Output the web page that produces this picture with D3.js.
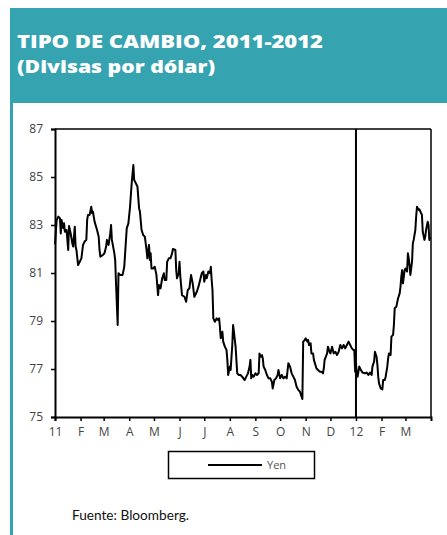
<!DOCTYPE html>
<html><head><meta charset="utf-8">
<script src="https://cdn.jsdelivr.net/npm/d3@7"></script>
<style>html,body{margin:0;padding:0;background:#fff;}svg{display:block;}</style>
</head><body>
<svg id="chart" width="447" height="535"></svg>
<script>
const startDate = "2011-01-01";
const endDate = "2012-04-01";
const dividerDate = "2012-01-01";
const seriesName = "Yen";
const yTicks = [75, 77, 79, 81, 83, 85, 87];
const monthLabels = ["11","F","M","A","M","J","J","A","S","O","N","D","12","F","M"];
// days since 2011-01-01
const dayOffsets = [0,2,4,6,7,8,10,11,12,14,16,17,19,21,22,24,25,26,28,30,32,34,36,38,39,40,42,44,45,46,48,51,53,54,55,58,60,62,63,65,67,68,69,72,73,74,76,77,79,82,84,
87,89,91,93,95,96,98,100,102,103,105,107,109,111,112,114,115,116,117,119,121,123,125,126,128,130,132,133,135,136,138,140,142,143,146,147,148,150,151,152,154,157,159,161,163,165,167,169,
172,174,176,178,180,181,183,184,186,188,189,190,191,192,194,196,198,199,200,201,203,204,206,208,209,210,212,213,215,216,217,219,220,221,223,225,227,230,232,234,236,237,238,239,241,243,245,247,248,249,251,252,253,255,257,259,261,263,264,266,
268,270,271,273,275,277,279,281,283,285,287,289,291,293,295,297,299,300,301,303,304,306,307,308,310,311,313,314,317,319,321,323,325,326,327,330,331,333,334,336,338,340,342,344,346,348,350,352,354,356,358,360,362,363,364,365,366,367,369,371,373,376,378,380,382,384,385,387,388,390,391,392,393,395,397,398,400,401,403,404,405,407,408,410,411,412,414,416,418,419,420,421,422,424,425,427,428,429,430,431,433,434,435,437,438,439,441,442,444,445,446,448,449,450,452,453,454,455];
const yenValues = [82.2,83.2,83.35,83.28,82.65,83.21,82.86,83.07,82.72,82.79,81.96,82.96,82.65,82.24,82.10,82.93,82.10,81.96,81.33,81.47,81.61,82.17,82.31,82.38,83.21,83.42,83.42,83.76,83.49,83.56,83.14,82.79,82.51,81.96,81.68,81.75,81.82,82.10,82.38,82.17,82.65,83.0,82.38,81.82,81.54,80.57,78.83,80.99,80.92,80.92,81.26,
82.86,83.07,83.76,84.74,85.5,84.88,84.74,84.6,83.69,83.56,82.79,82.58,82.51,81.96,81.61,82.17,81.54,81.82,81.19,81.19,81.26,80.92,80.08,80.5,80.36,80.78,80.99,80.71,80.71,81.47,81.61,81.61,81.82,82.0,81.96,81.12,80.78,80.99,81.47,80.85,80.08,80.01,79.80,80.29,80.36,80.92,80.57,80.01,
80.22,80.43,80.71,80.99,81.06,80.64,80.92,80.78,81.06,80.99,81.26,80.71,80.29,79.11,78.97,79.11,79.04,79.11,78.76,78.28,78.55,78.14,77.93,77.79,77.38,76.75,77.10,76.96,78.0,78.83,78.55,77.93,77.38,76.82,76.75,76.75,76.68,76.54,76.68,76.82,77.10,77.38,76.61,76.75,76.68,76.82,76.75,76.82,77.65,77.51,77.58,77.44,77.10,76.96,76.75,76.61,76.61,76.47,76.19,76.54,
76.61,76.75,76.96,76.61,76.75,76.61,76.68,76.61,77.24,77.10,76.82,76.68,76.54,76.26,76.13,76.06,75.85,75.75,78.14,78.21,78.28,78.14,78.21,78.0,78.07,77.65,77.65,77.38,77.03,76.96,76.89,76.89,76.82,77.03,77.38,77.65,77.93,77.72,77.65,77.93,77.65,77.72,77.58,77.72,78.0,77.86,78.0,77.86,78.0,78.14,78.0,77.86,77.79,77.79,76.89,77.24,76.82,76.68,77.10,76.96,76.85,76.82,76.85,76.75,76.85,76.75,77.10,77.31,77.72,77.51,77.17,76.68,76.40,76.19,76.15,76.54,76.54,76.68,77.10,77.44,77.65,77.58,78.35,78.42,78.83,79.53,79.60,79.94,80.15,80.43,80.85,81.12,80.57,81.12,81.19,81.06,81.82,81.61,81.33,80.92,81.47,82.24,82.38,82.79,83.35,83.76,83.63,83.65,83.49,83.42,82.72,82.38,82.51,82.79,83.14,83.0,82.38,82.51];

const svg = d3.select("#chart");
const teal = "#36a3b1";
const parse = d3.timeParse("%Y-%m-%d");
const t0 = parse(startDate), t1 = parse(endDate);
const data = dayOffsets.map((d, i) => ({date: d3.timeDay.offset(t0, d), value: yenValues[i]}));

// header
svg.append("rect").attr("x", 10).attr("y", 8).attr("width", 437).attr("height", 95).attr("fill", teal);
svg.append("rect").attr("x", 10).attr("y", 103).attr("width", 3).attr("height", 432).attr("fill", teal);
const titleFont = "'Open Sans', Lato, sans-serif";
svg.append("text").attr("x", 17).attr("y", 48).attr("fill", "#fff")
  .attr("font-family", titleFont).attr("font-weight", 800).attr("font-size", 18)
  .attr("textLength", 306).attr("lengthAdjust", "spacingAndGlyphs")
  .text("TIPO DE CAMBIO, 2011-2012");
svg.append("text").attr("x", 17).attr("y", 73).attr("fill", "#fff")
  .attr("font-family", titleFont).attr("font-weight", 800).attr("font-size", 18)
  .attr("textLength", 198).attr("lengthAdjust", "spacingAndGlyphs")
  .text("(Divisas por dólar)");

const L = 55, R = 431, T = 129, B = 417;
const x = d3.scaleTime().domain([t0, t1]).range([L, R]);
const y = d3.scaleLinear().domain([75, 87]).range([B, T]);

const font = "'Open Sans', sans-serif";
// y axis
const yAxis = svg.append("g").attr("transform", `translate(${L},0)`)
  .call(d3.axisLeft(y).tickValues(yTicks).tickSize(4).tickPadding(8));
yAxis.select(".domain").attr("stroke-width", 2);
yAxis.selectAll(".tick line").attr("stroke-width", 1.5);
yAxis.selectAll("text").attr("font-family", font).attr("font-size", 12).attr("fill", "#444");

// x axis
const monthStarts = d3.timeMonth.range(t0, d3.timeDay.offset(t1, -1));
const xAxis = svg.append("g").attr("transform", `translate(0,${B})`)
  .call(d3.axisBottom(x).tickValues(monthStarts).tickSize(4).tickPadding(6)
    .tickFormat((d, i) => monthLabels[i]));
xAxis.select(".domain").attr("stroke-width", 2);
xAxis.selectAll(".tick line").attr("stroke-width", 1.5);
xAxis.selectAll("text").attr("font-family", font).attr("font-size", 12).attr("fill", "#444");

// top and right frame
svg.append("line").attr("x1", L).attr("x2", R).attr("y1", T).attr("y2", T).attr("stroke", "#000").attr("stroke-width", 1.5);
svg.append("line").attr("x1", R).attr("x2", R).attr("y1", T).attr("y2", B).attr("stroke", "#000").attr("stroke-width", 1.5);
// divider
const xd = x(parse(dividerDate));
svg.append("line").attr("x1", xd).attr("x2", xd).attr("y1", T).attr("y2", B).attr("stroke", "#000").attr("stroke-width", 2);

// series
svg.append("path").datum(data).attr("fill", "none").attr("stroke", "#000").attr("stroke-width", 2)
  .attr("stroke-linejoin", "round")
  .attr("d", d3.line().x(d => x(d.date)).y(d => y(d.value)));

// legend
svg.append("rect").attr("x", 168.5).attr("y", 451.5).attr("width", 146).attr("height", 27)
  .attr("fill", "none").attr("stroke", "#000").attr("stroke-width", 1.5);
svg.append("line").attr("x1", 208).attr("x2", 262).attr("y1", 465).attr("y2", 465).attr("stroke", "#000").attr("stroke-width", 2);
svg.append("text").attr("x", 267).attr("y", 469).attr("font-family", font).attr("font-size", 11).attr("fill", "#555").text(seriesName);

// source
svg.append("text").attr("x", 72).attr("y", 520).attr("font-family", "Lato, 'Open Sans', sans-serif").attr("font-size", 12.5).attr("fill", "#111")
  .attr("textLength", 117).attr("lengthAdjust", "spacingAndGlyphs").text("Fuente: Bloomberg.");
</script>
</body></html>
